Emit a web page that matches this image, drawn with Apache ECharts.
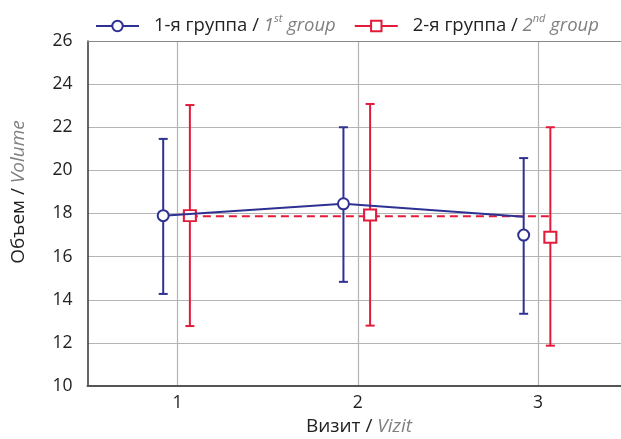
<!DOCTYPE html>
<html>
<head>
<meta charset="utf-8">
<script src="https://cdn.jsdelivr.net/npm/echarts@6/dist/echarts.min.js"></script>
<style>html,body{margin:0;padding:0;background:#fff}#c{width:621px;height:439px}</style>
</head>
<body>
<div id="c"></div>
<script>
// ---- data ----
const visits = [1, 2, 3];
const xTickLabels = ['1', '2', '3'];

const g1Mean = [17.9, 18.45, 17.0];
const g1Low  = [14.27, 14.83, 13.35];
const g1High = [21.46, 22.0, 20.57];
const g1Line = [17.9, 18.45, 17.85];

const g2Mean = [17.9, 17.93, 16.9];
const g2Low  = [12.78, 12.8, 11.87];
const g2High = [23.03, 23.08, 22.0];
const g2Line = [17.87, 17.87, 17.87];

const seriesNames = ['1-я группа', '2-я группа'];
const seriesNum = ['1', '2'];
const seriesSup = ['st', 'nd'];
const seriesEn = 'group';
const xName = ['Визит', 'Vizit'];
const yName = ['Объем', 'Volume'];

// ---- styles ----
const BLUE = '#2e3192';
const RED = '#e31b3a';
const OFF1 = -0.08, OFF2 = 0.068;
const FONT = 'Open Sans';

const chart = echarts.init(document.getElementById('c'), null, {renderer: 'canvas'});

function pts(vals, off) { return visits.map((v, i) => [v + off, vals[i]]); }
function errData(low, high, off) { return visits.map((v, i) => [v + off, low[i], high[i]]); }
function errSeries(low, high, off, color) {
  return {
    type: 'custom', z: 3, silent: true,
    data: errData(low, high, off),
    encode: {x: 0, y: [1, 2]},
    renderItem: function (params, api) {
      const x = api.value(0);
      const lo = api.coord([x, api.value(1)]);
      const hi = api.coord([x, api.value(2)]);
      const w = 4.5;
      const st = {stroke: color, lineWidth: 2};
      return {type: 'group', children: [
        {type: 'line', shape: {x1: lo[0], y1: lo[1], x2: hi[0], y2: hi[1]}, style: st},
        {type: 'line', shape: {x1: lo[0] - w, y1: lo[1], x2: lo[0] + w, y2: lo[1]}, style: st},
        {type: 'line', shape: {x1: hi[0] - w, y1: hi[1], x2: hi[0] + w, y2: hi[1]}, style: st}
      ]};
    }
  };
}

const rich2 = {
  a: {fontFamily: FONT, fontSize: 19, fill: '#222'},
  b: {fontFamily: FONT, fontSize: 19, fill: '#808080', fontStyle: 'italic'}
};

const option = {
  animation: false,
  textStyle: {fontFamily: FONT},
  grid: {left: 87.5, right: 0, top: 41, bottom: 53, containLabel: false},
  legend: {
    left: 90, top: 8, itemGap: 18, itemWidth: 43, itemHeight: 13,
    data: [
      {name: seriesNames[0]},
      {name: seriesNames[1], lineStyle: {type: 'solid'}}
    ],
    formatter: function (name) {
      const i = seriesNames.indexOf(name);
      return '{a|' + name + ' / }{i|' + seriesNum[i] + '}{s|' + seriesSup[i] + '}{i| ' + seriesEn + '}';
    },
    textStyle: {
      rich: {
        a: {fontFamily: FONT, fontSize: 18.5, color: '#222', padding: [0, 0, 0, 10], lineHeight: 26},
        i: {fontFamily: FONT, fontSize: 18.5, color: '#808080', fontStyle: 'italic', lineHeight: 26},
        s: {fontFamily: FONT, fontSize: 11, color: '#808080', fontStyle: 'italic', verticalAlign: 'top', lineHeight: 26, padding: [0, 0, 10, 0]}
      }
    }
  },
  xAxis: [{
    type: 'value', min: 0.5, max: 3.46,
    axisLine: {show: true, onZero: false, lineStyle: {color: '#555', width: 2}},
    axisTick: {show: false, customValues: visits},
    axisLabel: {customValues: visits, formatter: v => xTickLabels[visits.indexOf(v)], fontFamily: FONT, fontSize: 17.5, color: '#222', margin: 8},
    splitLine: {show: true, lineStyle: {color: '#b4b4b4', width: 1.2}}
  }, {
    type: 'value', position: 'top', min: 0.5, max: 3.46,
    axisLine: {show: true, onZero: false, lineStyle: {color: '#888', width: 1.2}},
    axisTick: {show: false}, axisLabel: {show: false}, splitLine: {show: false}
  }],
  yAxis: {
    type: 'value', min: 10, max: 26, interval: 2,
    axisLine: {show: true, onZero: false, lineStyle: {color: '#333', width: 1.5}},
    axisTick: {show: false},
    axisLabel: {fontFamily: FONT, fontSize: 17.5, color: '#222', margin: 15},
    splitLine: {show: true, lineStyle: {color: '#b4b4b4', width: 1.2}}
  },
  graphic: [
    {type: 'text', x: 19, y: 192, rotation: Math.PI / 2, style: {
      text: '{a|' + yName[0] + ' / }{b|' + yName[1] + '}', align: 'center', verticalAlign: 'middle',
      rich: rich2
    }},
    {type: 'text', x: 359, y: 427, style: {
      text: '{a|' + xName[0] + ' / }{b|' + xName[1] + '}', align: 'center', verticalAlign: 'middle',
      rich: rich2
    }}
  ],
  series: [
    {
      name: seriesNames[1], type: 'line', z: 2,
      data: pts(g2Line, OFF2).map(p => ({value: p, symbol: 'none'})),
      symbol: 'rect', symbolSize: [12, 11],
      itemStyle: {color: '#fff', borderColor: RED, borderWidth: 2},
      lineStyle: {color: RED, width: 2, type: [8, 5]}
    },
    errSeries(g2Low, g2High, OFF2, RED),
    errSeries(g1Low, g1High, OFF1, BLUE),
    {
      name: 'g2m', type: 'scatter', z: 4, data: pts(g2Mean, OFF2),
      symbol: 'rect', symbolSize: [12, 11],
      itemStyle: {color: '#fff', borderColor: RED, borderWidth: 2, opacity: 1}
    },
    {
      name: seriesNames[0], type: 'line', z: 5,
      data: pts(g1Line, OFF1).map(p => ({value: p, symbol: 'none'})),
      symbol: 'circle', symbolSize: 12,
      itemStyle: {color: '#fff', borderColor: BLUE, borderWidth: 2},
      lineStyle: {color: BLUE, width: 2}
    },
    {
      name: 'g1m', type: 'scatter', z: 6, data: pts(g1Mean, OFF1),
      symbol: 'circle', symbolSize: 11,
      itemStyle: {color: '#fff', borderColor: BLUE, borderWidth: 2, opacity: 1}
    }
  ]
};
chart.setOption(option);
</script>
</body>
</html>
